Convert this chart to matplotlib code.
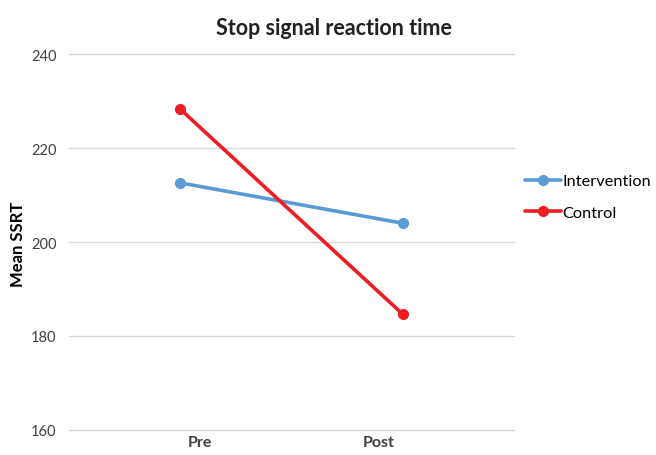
import matplotlib.pyplot as plt

# ----------------- DATA -----------------
phases = ["Pre", "Post"]
intervention = [212.6, 204.0]
control = [228.3, 184.6]
yticks = [160, 180, 200, 220, 240]

plt.rcParams["font.family"] = ["Lato", "DejaVu Sans"]

fig = plt.figure(figsize=(6.56, 4.56), dpi=100)
ax = fig.add_axes([0.105, 0.055, 0.679, 0.824])

x = list(range(len(phases)))
ax.plot(x, intervention, color="#5B9BD5", lw=2.6, marker="o", ms=7,
        label="Intervention", solid_capstyle="round")
ax.plot(x, control, color="#EE1D24", lw=2.6, marker="o", ms=7,
        label="Control", solid_capstyle="round")

ax.set_xlim(-0.5, 1.5)
ax.set_ylim(160, 240)
ax.set_yticks(yticks)
# category labels sit a little inward from the points
ax.set_xticks([0.09, 0.89])
ax.set_xticklabels(phases, fontweight="bold", fontsize=11.5, color="#404040")
ax.tick_params(axis="y", labelsize=10.5, colors="#404040", length=0, pad=9)
ax.tick_params(axis="x", length=0, pad=4)
ax.grid(axis="y", color="#D9D9D9", lw=1)
for gl in ax.get_ygridlines():
    gl.set_clip_on(False)
ax.set_axisbelow(True)
for s in ax.spines.values():
    s.set_visible(False)

fig.text(0.028, 0.465, "Mean SSRT", rotation=90, ha="center", va="center",
         fontsize=12, fontweight="bold", color="#000000")
fig.text(0.509, 0.937, "Stop signal reaction time", ha="center", va="center",
         fontsize=15.5, fontweight="bold", color="#222222")

ax.legend(loc="center left", bbox_to_anchor=(0.99, 0.62), frameon=False,
          fontsize=11.8, handlelength=2.2, handletextpad=0.1, labelspacing=1.05)

fig.savefig("out.png", dpi=100)
